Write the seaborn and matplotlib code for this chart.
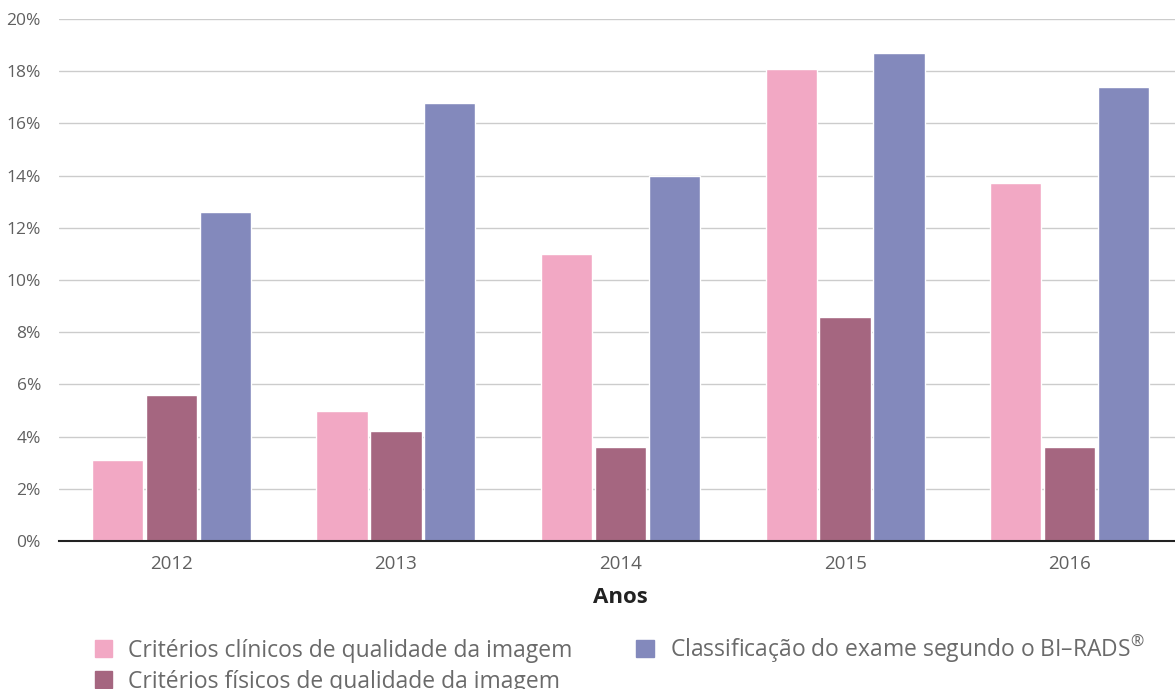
import numpy as np
import pandas as pd
import seaborn as sns
import matplotlib.pyplot as plt
from matplotlib.ticker import FuncFormatter

years = ["2012", "2013", "2014", "2015", "2016"]
clinicos = [3.1, 5.0, 11.0, 18.1, 13.7]
fisicos = [5.6, 4.2, 3.6, 8.6, 3.6]
birads = [12.6, 16.8, 14.0, 18.7, 17.4]

series_names = [
    "Critérios clínicos de qualidade da imagem",
    "Critérios físicos de qualidade da imagem",
    "Classificação do exame segundo o BI–RADS$^{\u00ae}$",
]
colors = ["#F2A8C4", "#A56680", "#8389BC"]

sns.set_theme(style="white")
plt.rcParams['font.family'] = ['Open Sans', 'DejaVu Sans']
plt.rcParams['mathtext.fontset'] = 'custom'
plt.rcParams['mathtext.rm'] = 'Open Sans'

df = pd.DataFrame({
    "ano": years,
    series_names[0]: clinicos,
    series_names[1]: fisicos,
    series_names[2]: birads,
})
df_long = pd.melt(df, id_vars=["ano"], var_name="serie", value_name="valor")

fig = plt.figure(figsize=(11.75, 6.89), dpi=100)
ax = fig.add_axes([59 / 1175, 1 - 541 / 689, 1123 / 1175, (541 - 19) / 689])

sns.barplot(data=df_long, x="ano", y="valor", hue="serie", palette=colors,
            width=0.72, gap=0.05, saturation=1, ax=ax, legend=False)

ax.set_ylim(0, 20)
ax.set_xlim(-0.5, 4.5)
ax.set_yticks(np.arange(0, 21, 2))
ax.yaxis.set_major_formatter(FuncFormatter(lambda v, p: f"{int(v)}%"))
ax.grid(axis="y", color="#cccccc", linewidth=1)
ax.set_axisbelow(True)
for s in ["left", "right", "top"]:
    ax.spines[s].set_visible(False)
ax.spines["bottom"].set_color("#222222")
ax.spines["bottom"].set_linewidth(1.5)
ax.tick_params(axis="y", length=0, pad=13, labelsize=12.5, labelcolor="#606060")
ax.tick_params(axis="x", length=0, pad=10, labelsize=13.5, labelcolor="#606060")
ax.set_ylabel("")
ax.set_xlabel("Anos", fontsize=16, fontweight="bold", color="#222222", labelpad=10)

handles = [plt.Rectangle((0, 0), 1, 1, color=c) for c in colors]
leg = fig.legend(handles, series_names, loc="upper left", ncol=2,
                 bbox_to_anchor=(74 / 1175, 1 - 613 / 689), frameon=False,
                 fontsize=16.5, handlelength=0.75, handleheight=0.75,
                 handletextpad=0.7, columnspacing=2.8, labelspacing=0.3)
for t in leg.get_texts():
    t.set_color("#6a6a6a")

fig.savefig("out.png", dpi=100)
